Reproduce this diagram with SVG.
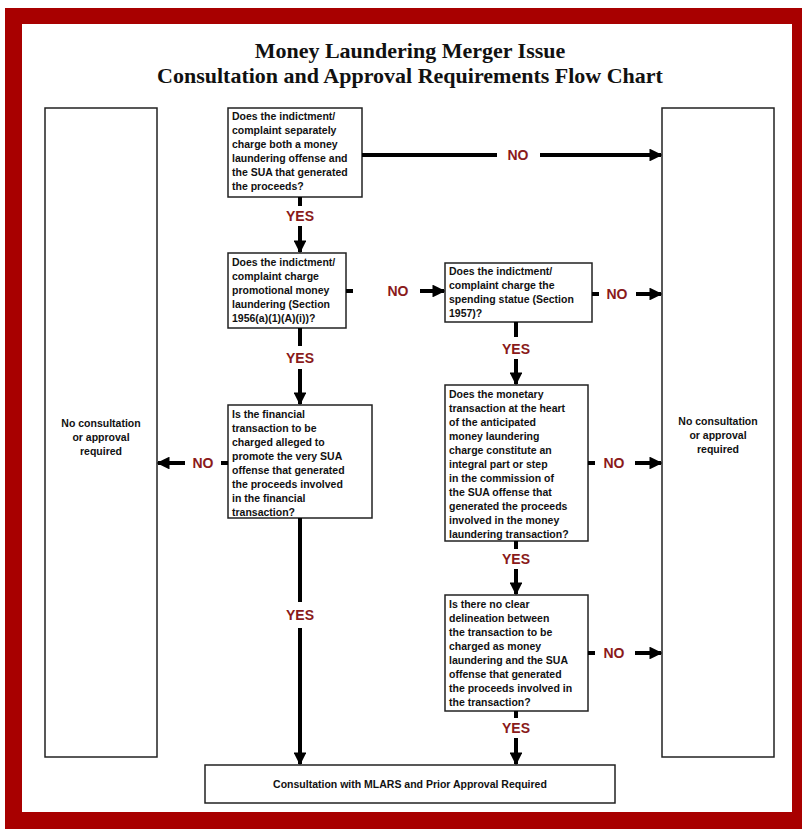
<svg xmlns="http://www.w3.org/2000/svg" width="802" height="829" viewBox="0 0 802 829">
<defs>
<marker id="ah" viewBox="0 0 10 10" refX="9" refY="5" markerWidth="3.2" markerHeight="3.2" orient="auto" markerUnits="strokeWidth">
<path d="M0,0 L10,5 L0,10 Z" fill="#000"/>
</marker>
<style>
.box{fill:#fff;stroke:#222;stroke-width:1.5}
.t{font-family:"Liberation Sans",Arial,sans-serif;font-size:10.5px;font-weight:bold;fill:#111}
.c{text-anchor:middle}
.lbl{font-family:"Liberation Sans",Arial,sans-serif;font-size:14px;font-weight:bold;fill:#8a1a1a;text-anchor:middle}
.ln{stroke:#000;stroke-width:4;fill:none}
.ar{stroke:#000;stroke-width:4;fill:none;marker-end:url(#ah)}
.title{font-family:"Liberation Serif","Times New Roman",serif;font-size:22px;font-weight:bold;fill:#111;text-anchor:middle}
</style>
</defs>
<rect x="0" y="0" width="802" height="829" fill="#fff"/>
<rect x="5" y="8" width="797" height="821" fill="#a80000"/>
<rect x="22" y="24" width="770" height="788" fill="#fff"/>
<g id="title">
<text class="title" x="410" y="58">Money Laundering Merger Issue</text>
<text class="title" x="410" y="83">Consultation and Approval Requirements Flow Chart</text>
</g>
<g id="left-none">
<rect class="box" x="45" y="108" width="112" height="649"/>
<text class="t c" x="101" y="427">No consultation</text>
<text class="t c" x="101" y="441">or approval</text>
<text class="t c" x="101" y="455">required</text>
</g>
<g id="right-none">
<rect class="box" x="662" y="108" width="112" height="649"/>
<text class="t c" x="718" y="425">No consultation</text>
<text class="t c" x="718" y="439">or approval</text>
<text class="t c" x="718" y="453">required</text>
</g>
<g id="q1">
<rect class="box" x="228" y="108" width="134" height="89"/>
<text class="t" x="232" y="120">Does the indictment/</text>
<text class="t" x="232" y="134">complaint separately</text>
<text class="t" x="232" y="148">charge both a money</text>
<text class="t" x="232" y="162">laundering offense and</text>
<text class="t" x="232" y="176">the SUA that generated</text>
<text class="t" x="232" y="190">the proceeds?</text>
</g>
<g id="q2">
<rect class="box" x="228" y="253" width="118" height="75"/>
<text class="t" x="232" y="266">Does the indictment/</text>
<text class="t" x="232" y="280">complaint charge</text>
<text class="t" x="232" y="294">promotional money</text>
<text class="t" x="232" y="308">laundering (Section</text>
<text class="t" x="232" y="322">1956(a)(1)(A)(i))?</text>
</g>
<g id="q3">
<rect class="box" x="445" y="263" width="147" height="59"/>
<text class="t" x="449" y="275">Does the indictment/</text>
<text class="t" x="449" y="289">complaint charge the</text>
<text class="t" x="449" y="303">spending statue (Section</text>
<text class="t" x="449" y="317">1957)?</text>
</g>
<g id="q4">
<rect class="box" x="445" y="385" width="143" height="156"/>
<text class="t" x="449" y="398">Does the monetary</text>
<text class="t" x="449" y="412">transaction at the heart</text>
<text class="t" x="449" y="426">of the anticipated</text>
<text class="t" x="449" y="440">money laundering</text>
<text class="t" x="449" y="454">charge constitute an</text>
<text class="t" x="449" y="468">integral part or step</text>
<text class="t" x="449" y="482">in the commission of</text>
<text class="t" x="449" y="496">the SUA offense that</text>
<text class="t" x="449" y="510">generated the proceeds</text>
<text class="t" x="449" y="524">involved in the money</text>
<text class="t" x="449" y="538">laundering transaction?</text>
</g>
<g id="q5">
<rect class="box" x="228" y="405" width="144" height="113"/>
<text class="t" x="232" y="418">Is the financial</text>
<text class="t" x="232" y="432">transaction to be</text>
<text class="t" x="232" y="446">charged alleged to</text>
<text class="t" x="232" y="460">promote the very SUA</text>
<text class="t" x="232" y="474">offense that generated</text>
<text class="t" x="232" y="488">the proceeds involved</text>
<text class="t" x="232" y="502">in the financial</text>
<text class="t" x="232" y="516">transaction?</text>
</g>
<g id="q6">
<rect class="box" x="445" y="595" width="143" height="116"/>
<text class="t" x="449" y="608">Is there no clear</text>
<text class="t" x="449" y="622">delineation between</text>
<text class="t" x="449" y="636">the transaction to be</text>
<text class="t" x="449" y="650">charged as money</text>
<text class="t" x="449" y="664">laundering and the SUA</text>
<text class="t" x="449" y="678">offense that generated</text>
<text class="t" x="449" y="692">the proceeds involved in</text>
<text class="t" x="449" y="706">the transaction?</text>
</g>
<g id="consult">
<rect class="box" x="205" y="765" width="410" height="38"/>
<text class="t c" x="410" y="788">Consultation with MLARS and Prior Approval Required</text>
</g>
<g id="connectors">
<line class="ln" x1="362" y1="155" x2="497" y2="155"/>
<line class="ar" x1="540" y1="155" x2="661" y2="155"/>
<text class="lbl" x="518" y="160">NO</text>
<line class="ln" x1="300" y1="197" x2="300" y2="206"/>
<text class="lbl" x="300" y="221">YES</text>
<line class="ar" x1="300" y1="226" x2="300" y2="252"/>
<line class="ln" x1="346" y1="291" x2="353" y2="291"/>
<text class="lbl" x="398" y="296">NO</text>
<line class="ar" x1="420" y1="291" x2="444" y2="291"/>
<line class="ln" x1="592" y1="294" x2="599" y2="294"/>
<text class="lbl" x="617" y="299">NO</text>
<line class="ar" x1="636" y1="294" x2="661" y2="294"/>
<line class="ln" x1="516" y1="322" x2="516" y2="337"/>
<text class="lbl" x="516" y="354">YES</text>
<line class="ar" x1="516" y1="359" x2="516" y2="384"/>
<line class="ln" x1="300" y1="328" x2="300" y2="346"/>
<text class="lbl" x="300" y="363">YES</text>
<line class="ar" x1="300" y1="369" x2="300" y2="404"/>
<line class="ln" x1="228" y1="463" x2="221" y2="463"/>
<text class="lbl" x="203" y="468">NO</text>
<line class="ar" x1="185" y1="463" x2="158" y2="463"/>
<line class="ln" x1="300" y1="518" x2="300" y2="602"/>
<text class="lbl" x="300" y="620">YES</text>
<line class="ar" x1="300" y1="628" x2="300" y2="764"/>
<line class="ln" x1="588" y1="463" x2="595" y2="463"/>
<text class="lbl" x="614" y="468">NO</text>
<line class="ar" x1="635" y1="463" x2="661" y2="463"/>
<line class="ln" x1="516" y1="541" x2="516" y2="549"/>
<text class="lbl" x="516" y="564">YES</text>
<line class="ar" x1="516" y1="569" x2="516" y2="594"/>
<line class="ln" x1="588" y1="653" x2="595" y2="653"/>
<text class="lbl" x="614" y="658">NO</text>
<line class="ar" x1="635" y1="653" x2="661" y2="653"/>
<line class="ln" x1="516" y1="711" x2="516" y2="718"/>
<text class="lbl" x="516" y="733">YES</text>
<line class="ar" x1="516" y1="738" x2="516" y2="764"/>
</g>
</svg>
